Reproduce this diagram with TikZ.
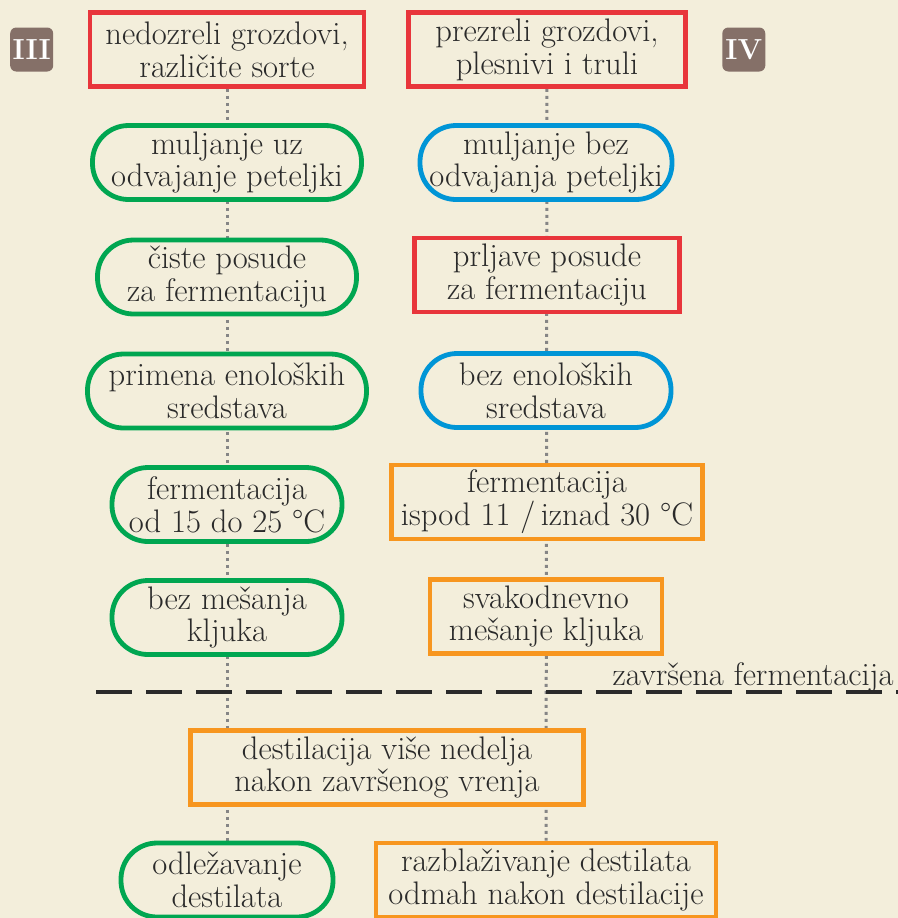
\documentclass[tikz,border=0pt]{standalone}
\usepackage{tikz}
\usetikzlibrary{positioning, backgrounds}
\definecolor{parchment}{HTML}{F3EEDB}
\definecolor{ink}{HTML}{2A2A2A}
\definecolor{wred}{HTML}{E8353B}
\definecolor{wgreen}{HTML}{00A651}
\definecolor{wblue}{HTML}{0095D6}
\definecolor{worange}{HTML}{F7961F}
\definecolor{badgebrown}{HTML}{857068}
\definecolor{dotgray}{HTML}{858585}
\tikzset{
    stage/.style={draw, rectangle, line width=2.4pt, fill=parchment, text=ink, align=center, minimum height=37pt, inner sep=2pt},
    badpath/.style={stage, draw=wred},
    goodpath/.style={stage, draw=wgreen, rounded corners=18pt},
    neutral/.style={stage, draw=wblue, rounded corners=18pt},
    risky/.style={stage, draw=worange},
    badge/.style={fill=badgebrown, rounded corners=3pt, text=white, inner sep=0pt, minimum width=21.5pt, minimum height=22pt, font=\fontsize{14.5}{14.5}\selectfont\bfseries},
    chain/.style={draw=dotgray, line width=1.5pt, dash pattern=on 1.5pt off 2pt},
    endline/.style={draw=ink, line width=2.2pt, dash pattern=on 18pt off 7pt} }

\begin{document}
\begin{tikzpicture}[x=0.5pt, y=-0.5pt, font=\fontsize{16.3}{16.4}\selectfont]
    \useasboundingbox (0,0) rectangle (898,918);
    % III: left column
    \node[badpath, minimum width=137pt] (L1) at (227,49.5) {nedozreli grozdovi,\\različite sorte};
    \node[goodpath, minimum width=134.5pt] (L2) at (227,162.5) {muljanje uz\\odvajanje peteljki};
    \node[goodpath, minimum width=129.5pt] (L3) at (227,277) {čiste posude\\za fermentaciju};
    \node[goodpath, minimum width=139.5pt] (L4) at (227,391) {primena enoloških\\sredstava};
    \node[goodpath, minimum width=115pt] (L5) at (227,504.5) {fermentacija\\od 15 do 25 °C};
    \node[goodpath, minimum width=115pt] (L6) at (227,617.5) {bez mešanja\\kljuka};
    % IV: right column
    \node[badpath, minimum width=138.5pt] (R1) at (547,49.5) {prezreli grozdovi,\\plesnivi i truli};
    \node[neutral, minimum width=126pt] (R2) at (546,162.5) {muljanje bez\\odvajanja peteljki};
    \node[badpath, minimum width=132.5pt] (R3) at (547,275) {prljave posude\\za fermentaciju};
    \node[neutral, minimum width=125pt] (R4) at (546,390.5) {bez enoloških\\sredstava};
    \node[risky, minimum width=155.5pt] (R5) at (547,502) {fermentacija\\ispod 11 /\,iznad 30 °C};
    \node[risky, minimum width=116pt] (R6) at (546,616.5) {svakodnevno\\mešanje kljuka};
    % badges
    \node[badge, left=17pt of L1] (III) {III};
    \node[badge, right=17pt of R1] (IV) {IV};
    % end of fermentation
    \coordinate (cutL) at (96,692);
    \coordinate (cutR) at (898,692);
    \draw[endline] (cutL) -- (cutR);
    \node[anchor=base east, inner sep=0pt, text=ink] (done) at (894,685) {završena fermentacija};
    % distillation
    \node[risky, minimum width=196.5pt] (D) at (387,767.5) {destilacija više nedelja\\nakon završenog vrenja};
    \node[goodpath, minimum width=106pt] (L8) at (227,880) {odležavanje\\destilata};
    \node[risky, minimum width=170pt] (R8) at (546,880) {razblaživanje destilata\\odmah nakon destilacije};
    % ----
    \begin{scope}[on background layer]
        \fill[parchment] (0,0) rectangle (898,918);
        \draw[chain] (L1) -- (L8);
        \draw[chain] (R1) -- (R8);
    \end{scope}
\end{tikzpicture}
\end{document}
